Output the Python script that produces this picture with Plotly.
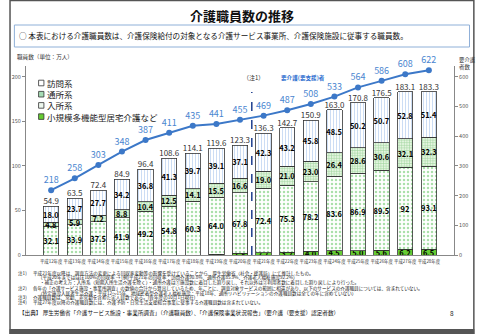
import plotly.graph_objects as go

# ---------------- data ----------------
years = ["平成12年度", "平成13年度", "平成14年度", "平成15年度", "平成16年度", "平成17年度",
         "平成18年度", "平成19年度", "平成20年度", "平成21年度", "平成22年度", "平成23年度",
         "平成24年度", "平成25年度", "平成26年度", "平成27年度", "平成28年度"]
houmon = [18.0, 23.7, 27.7, 34.2, 36.8, 41.3, 39.7, 39.1, 37.1, 42.3, 43.2, 45.8, 48.5, 50.2, 50.7, 52.8, 51.4]
tsusho = [4.8, 5.9, 7.2, 8.8, 10.4, 12.5, 14.1, 15.5, 16.6, 19.0, 21.0, 23.0, 26.4, 28.6, 30.6, 32.1, 32.3]
nyusho = [32.1, 33.9, 37.5, 41.9, 49.2, 54.8, 60.3, 64.0, 67.8, 72.4, 75.3, 78.2, 83.6, 86.9, 89.5, 92, 93.1]
shokibo = [0, 0, 0, 0, 0, 0, 0, 1.0, 1.8, 2.7, 3.2, 4.0, 4.5, 5.0, 5.6, 6.2, 6.5]
totals = [54.9, 63.5, 72.4, 84.9, 96.4, 108.6, 114.1, 119.6, 123.3, 136.3, 142.7, 150.9,
          163.0, 170.8, 176.5, 183.1, 183.3]
youkaigo = [218, 258, 303, 348, 387, 411, 435, 441, 455, 469, 487, 508, 533, 564, 586, 608, 622]
left_ticks = [0, 50, 100, 150, 200]
right_ticks = [0, 100, 200, 300, 400, 500, 600]

# ---------------- geometry helpers ----------------
W, H = 480, 334
L, R, T, B = 17, 21, 66, 79
PW, PH = W - L - R, H - T - B
def px(x):
    return (x - L) / PW
def py(y):
    return (H - B - y) / PH

FONT = "Noto Sans CJK JP"

def lab(vals):
    return [("" if v == 0 else str(v)) for v in vals]

fig = go.Figure()

seg_text_font = dict(family=FONT, size=7.5, color="#000000")

fig.add_trace(go.Bar(
    x=years, y=shokibo, name="小規模多機能型居宅介護など",
    marker=dict(color="#66cc33", line=dict(color="#333333", width=0.8)),
    text=lab(shokibo), textposition="inside", insidetextanchor="middle", textangle=0,
    texttemplate="<b>%{text}</b>", insidetextfont=seg_text_font, showlegend=False,
    hoverinfo="skip"))
fig.add_trace(go.Bar(
    x=years, y=nyusho, name="入所系",
    marker=dict(color="white", line=dict(color="#333333", width=0.8),
                pattern=dict(shape=".", fgcolor="#55c055", bgcolor="white", size=4, solidity=0.3)),
    text=lab(nyusho), textposition="inside", insidetextanchor="middle", textangle=0,
    texttemplate="<b>%{text}</b>", insidetextfont=seg_text_font, showlegend=False,
    hoverinfo="skip"))
fig.add_trace(go.Bar(
    x=years, y=tsusho, name="通所系",
    marker=dict(color="#d6efd0", line=dict(color="#333333", width=0.8),
                pattern=dict(shape="+", fgcolor="#57b357", bgcolor="#e4f5e0", size=2.6, solidity=0.35)),
    text=lab(tsusho), textposition="inside", insidetextanchor="middle", textangle=0,
    texttemplate="<b>%{text}</b>", insidetextfont=seg_text_font, showlegend=False,
    hoverinfo="skip"))
fig.add_trace(go.Bar(
    x=years, y=houmon, name="訪問系",
    marker=dict(color="white", line=dict(color="#333333", width=0.8),
                pattern=dict(shape="|", fgcolor="#8fb3e6", bgcolor="white", size=3, solidity=0.3)),
    text=lab(houmon), textposition="inside", insidetextanchor="middle", textangle=0,
    texttemplate="<b>%{text}</b>", insidetextfont=seg_text_font, showlegend=False,
    hoverinfo="skip"))

# totals above bars
fig.add_trace(go.Scatter(
    x=years, y=totals, mode="text", text=[f"{v:.1f}" for v in totals],
    textposition="top center", textfont=dict(family=FONT, size=8, color="#333333"),
    showlegend=False, cliponaxis=False, hoverinfo="skip"))

# 要介護者数 line
fig.add_trace(go.Scatter(
    x=years, y=youkaigo, yaxis="y2", mode="lines+markers+text",
    line=dict(color="#3c78c8", width=2), marker=dict(color="#3c78c8", size=6),
    text=[str(v) for v in youkaigo], textposition="top center",
    textfont=dict(family=FONT, size=9, color="#4a86d0"),
    showlegend=False, cliponaxis=False, hoverinfo="skip"))

shapes = []
annotations = []

# frame
shapes.append(dict(type="rect", xref="paper", yref="paper", x0=px(0.5), x1=px(479.5),
                   y0=py(333.5), y1=py(0.5), line=dict(color="#555555", width=1.5)))
shapes.append(dict(type="rect", xref="paper", yref="paper", x0=px(0), x1=px(480),
                   y0=py(334), y1=py(329), fillcolor="#555555", line=dict(width=0)))

# title
annotations.append(dict(text="<b>介護職員数の推移</b>", xref="paper", yref="paper",
                        x=px(240), y=py(15), xanchor="center", yanchor="middle",
                        showarrow=False, font=dict(family=FONT, size=13, color="#111111")))
# info box
shapes.append(dict(type="rect", xref="paper", yref="paper", x0=px(5), x1=px(475),
                   y0=py(47), y1=py(25), line=dict(color="#8fb0d8", width=1)))
annotations.append(dict(text="○ 本表における介護職員数は、介護保険給付の対象となる介護サービス事業所、介護保険施設に従事する職員数。",
                        xref="paper", yref="paper", x=px(8), y=py(36), xanchor="left",
                        yanchor="middle", showarrow=False,
                        font=dict(family=FONT, size=7.6, color="#111111")))
annotations.append(dict(text="職員数（単位：万人）", xref="paper", yref="paper", x=px(6), y=py(57),
                        xanchor="left", yanchor="middle", showarrow=False,
                        font=dict(family=FONT, size=5.6, color="#333333")))
annotations.append(dict(text="要介護<br>者数", xref="paper", yref="paper", x=px(462), y=py(64),
                        xanchor="left", yanchor="middle", showarrow=False, align="left",
                        font=dict(family=FONT, size=5.4, color="#333333")))

# manual legend
leg_items = [("訪問系", "white"), ("通所系", "#a6dcb4"), ("入所系", "#eef8ee"),
             ("小規模多機能型居宅介護など", "#66cc33")]
for i, (name, col) in enumerate(leg_items):
    yc = 83 + i * 11.2
    shapes.append(dict(type="rect", xref="paper", yref="paper", x0=px(30), x1=px(35.5),
                       y0=py(yc + 2.8), y1=py(yc - 2.8), fillcolor=col,
                       line=dict(color="#333333", width=0.8)))
    annotations.append(dict(text=name, xref="paper", yref="paper", x=px(37), y=py(yc),
                            xanchor="left", yanchor="middle", showarrow=False,
                            font=dict(family=FONT, size=8.5, color="#222222")))

# dashed divider between H20 and H21
shapes.append(dict(type="line", xref="x", yref="paper", x0=8.5, x1=8.5, y0=0, y1=py(92),
                   line=dict(color="#1f3f8f", width=1.5, dash="dash")))
annotations.append(dict(text="（注1）", xref="paper", yref="paper", x=px(252), y=py(77),
                        xanchor="center", yanchor="middle", showarrow=False,
                        font=dict(family=FONT, size=6, color="#333333")))
annotations.append(dict(text="<b>要介護(要支援)者</b>", xref="paper", yref="paper", x=px(303), y=py(78),
                        xanchor="center", yanchor="middle", showarrow=False,
                        font=dict(family=FONT, size=5.6, color="#2f6fcf")))

# notes
notes = [
    (7, 273.3, "注1)"),
    (22, 273.3, "平成21年度以降は、調査方法の変更による回収率変動等の影響を受けていることから、厚生労働省（社会・援護局）にて推計したもの。"),
    (27, 277.8, "（平成20年まではほぼ100%の回収率 → (例)平成21年の回収率：訪問介護90.8%、通所介護85.9%、介護老人福祉施設92.2%）"),
    (29, 282.3, "・補正の考え方：入所系（短期入所生活介護を除く）・通所介護は①施設数に着目した割り戻し、それ以外は②利用者数に着目した割り戻しにより行った。"),
    (7, 288.7, "注2)"),
    (22, 288.7, "各年の「介護サービス施設・事業所調査」の数値の合計から算出しているため、年ごとに、調査対象サービスの範囲に相違があり、以下のサービスの介護職員については、含まれていない。"),
    (27, 293.2, "（特定施設入居者生活介護：平成12～15年、地域密着型介護老人福祉施設：平成18年、通所リハビリテーションの介護職員数は全ての年に含めていない）"),
    (7, 297.7, "注3)"),
    (22, 297.7, "介護職員数は、常勤、非常勤を含めた実人員数である。(各年度の10月1日現在)"),
    (7, 302.3, "注4)"),
    (22, 302.3, "平成27年度以降の介護職員数には、介護予防・日常生活支援総合事業に従事する介護職員数は含まれていない。"),
]
for x, y, t in notes:
    annotations.append(dict(text=t, xref="paper", yref="paper", x=px(x), y=py(y),
                            xanchor="left", yanchor="middle", showarrow=False,
                            font=dict(family=FONT, size=4.6, color="#222222")))
annotations.append(dict(text="【出典】 厚生労働省「介護サービス施設・事業所調査」（介護職員数）、「介護保険事業状況報告」（要介護（要支援）認定者数）",
                        xref="paper", yref="paper", x=px(8), y=py(312.5), xanchor="left",
                        yanchor="middle", showarrow=False,
                        font=dict(family=FONT, size=5.6, color="#111111")))
annotations.append(dict(text="8", xref="paper", yref="paper", x=px(457), y=py(312.5),
                        xanchor="center", yanchor="middle", showarrow=False,
                        font=dict(family=FONT, size=6.5, color="#222222")))

fig.update_layout(
    width=W, height=H, autosize=False,
    margin=dict(l=L, r=R, t=T, b=B, pad=0),
    paper_bgcolor="white", plot_bgcolor="white",
    barmode="stack", bargap=0.35,
    uniformtext=dict(mode="show", minsize=7),
    showlegend=False,
    font=dict(family=FONT, color="#333333"),
    xaxis=dict(type="category", showline=True, linecolor="#888888", linewidth=1,
               ticks="", tickangle=0, ticklabelstandoff=2,
               tickfont=dict(family=FONT, size=4.4, color="#333333"),
               showgrid=False, fixedrange=True),
    yaxis=dict(range=[0, 212], tickvals=left_ticks, ticks="outside", ticklen=3,
               tickcolor="#888888", showline=True, linecolor="#888888", linewidth=1,
               tickfont=dict(family=FONT, size=5.5, color="#555555"),
               showgrid=False, zeroline=False),
    yaxis2=dict(range=[0, 636], tickvals=right_ticks, overlaying="y", side="right",
                ticks="outside", ticklen=3, tickcolor="#888888", showline=True,
                linecolor="#888888", linewidth=1,
                tickfont=dict(family=FONT, size=5.5, color="#555555"),
                showgrid=False, zeroline=False),
    shapes=shapes, annotations=annotations,
)

fig.write_html("out.html", config={"displayModeBar": False})
